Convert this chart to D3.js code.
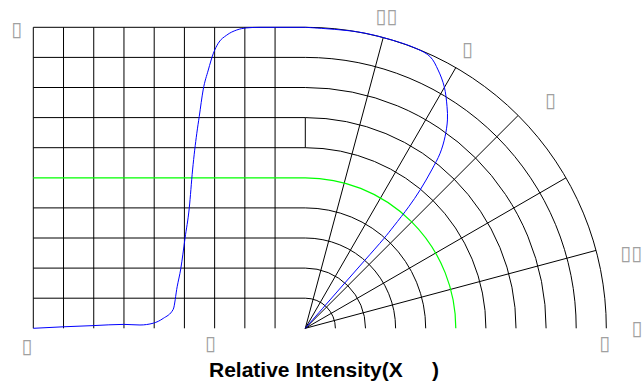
<!DOCTYPE html>
<html>
<head>
<meta charset="utf-8">
<script src="https://d3js.org/d3.v7.min.js"></script>
<style type="text/css">
body { margin: 0; background: #fff; }
.title { font: bold 21px "Liberation Sans", Arial, Helvetica, sans-serif; }
.tofu { font: 20px "DejaVu Sans", sans-serif; fill: #a0a0a0; }
</style>
</head>
<body>
<script>
// left (cartesian) graph: off-axis angle in degrees and relative intensity
var leftAngles = [90, 80, 70, 60, 54.7, 50.3, 47.0, 43.7, 42.4, 41.2, 39.8, 38.4, 37.3, 35.9, 35.1, 33.8, 32.1, 30.4, 28.8, 26.0, 22.7, 19.4, 15, 10, 0];
var leftIntensity = [0, 0.005, 0.009, 0.013, 0.011, 0.017, 0.033, 0.063, 0.138, 0.198, 0.299, 0.399, 0.526, 0.648, 0.703, 0.792, 0.858, 0.914, 0.947, 0.974, 0.991, 0.998, 1.0, 1.0, 1.0];
// right (polar) graph: off-axis angle in degrees and relative intensity
var polarAngles = [0, 10, 16.3, 21.6, 24.7, 27.2, 29.9, 32.6, 34.3, 36.1, 37.6, 38.6, 39.7, 40.4, 40.9, 41.2, 41.2, 41.1, 41.0, 41.0];
var polarIntensity = [1.0, 1.0, 1.0, 1.0, 0.993, 0.965, 0.926, 0.874, 0.838, 0.788, 0.734, 0.673, 0.597, 0.53, 0.45, 0.396, 0.30, 0.2, 0.1, 0];
// grid
var gridLevels = [0.1, 0.2, 0.3, 0.4, 0.5, 0.6, 0.7, 0.8, 0.9, 1.0];
var gridAngles = [90, 80, 70, 60, 50, 40, 30, 20, 10];
var spokeAngles = [15, 30, 45, 60, 75];
var halfLevel = 0.5;
// labels (glyphs missing in the reference, kept as boxes)
var leftLabelText = ['\u25AF', '\u25AF', '\u25AF'];
var leftLabelAngle = [95.5, 92.1, 31.4];
var leftLabelValue = [0.993, -0.06, -0.05];
var polarLabelText = ['\u25AF\u25AF', '\u25AF', '\u25AF', '\u25AF\u25AF', '\u25AF', '\u25AF'];
var polarLabelAngle = [14.6, 30.2, 47.1, 77.0, 90, 92.8];
var polarLabelRadius = [1.071, 1.072, 1.112, 1.111, 1.102, 0.996];
var xTitle = 'Relative Intensity(X\u00a0\u00a0\u00a0\u00a0\u00a0)';

var width = 643, height = 388;
var left = 33.3, cx = 305.3, cy = 328.3, R = 301;

var svg = d3.select('body').append('svg').attr('width', width).attr('height', height);

var x = d3.scaleLinear().domain([90, 0]).range([left, cx]);
var y = d3.scaleLinear().domain([0, 1]).range([cy, cy - R]);
var r = d3.scaleLinear().domain([0, 1]).range([0, R]);
var rad = function(a) { return a * Math.PI / 180; };

var grid = svg.append('g').attr('fill', 'none').attr('stroke', '#000').attr('stroke-width', 1);

//vertical lines of the left grid
grid.selectAll('line.v').data(gridAngles).enter().append('line')
	.attr('x1', function(d) { return x(d); }).attr('x2', function(d) { return x(d); })
	.attr('y1', y(0)).attr('y2', y(1));

//horizontal lines joined to the quarter arcs
var levelPath = function(v) {
	var p = d3.path();
	p.moveTo(x(90), y(v));
	p.lineTo(cx, y(v));
	p.arc(cx, cy, r(v), -Math.PI / 2, 0);
	return p.toString();
};
grid.selectAll('path.level').data(gridLevels.filter(function(v) { return v != halfLevel; })).enter().append('path')
	.attr('d', levelPath);

//spokes
grid.selectAll('line.spoke').data(spokeAngles).enter().append('line')
	.attr('x1', cx).attr('y1', cy)
	.attr('x2', function(d) { return cx + r(1) * Math.cos(rad(d)); })
	.attr('y2', function(d) { return cy - r(1) * Math.sin(rad(d)); });

//short piece of the vertical axis
grid.append('line').attr('x1', cx).attr('x2', cx).attr('y1', y(0.6)).attr('y2', y(0.7));

//50% level in green
svg.append('path').attr('fill', 'none').attr('stroke', '#00ff00').attr('stroke-width', 1.2).attr('d', levelPath(halfLevel));

//intensity curves
var leftData = leftAngles.map(function(a, i) { return [a, leftIntensity[i]]; });
var polarData = polarAngles.map(function(a, i) { return [a, polarIntensity[i]]; });

var leftLine = d3.line().x(function(d) { return x(d[0]); }).y(function(d) { return y(d[1]); }).curve(d3.curveMonotoneX);
var polarLine = d3.lineRadial().angle(function(d) { return rad(d[0]); }).radius(function(d) { return r(d[1]); }).curve(d3.curveCatmullRom);

svg.append('path').datum(leftData).attr('fill', 'none').attr('stroke', '#0000ff').attr('stroke-width', 1).attr('d', leftLine);
svg.append('path').datum(polarData).attr('fill', 'none').attr('stroke', '#0000ff').attr('stroke-width', 1)
	.attr('transform', 'translate(' + cx + ',' + cy + ')').attr('d', polarLine);

//labels
leftLabelText.forEach(function(t, i) {
	svg.append('text').attr('class', 'tofu').attr('text-anchor', 'middle').attr('dominant-baseline', 'central')
		.attr('x', x(leftLabelAngle[i])).attr('y', y(leftLabelValue[i])).text(t);
});
polarLabelText.forEach(function(t, i) {
	var a = rad(polarLabelAngle[i]);
	svg.append('text').attr('class', 'tofu').attr('text-anchor', 'middle').attr('dominant-baseline', 'central')
		.attr('x', cx + r(polarLabelRadius[i]) * Math.sin(a))
		.attr('y', cy - r(polarLabelRadius[i]) * Math.cos(a)).text(t);
});

svg.append('text').attr('class', 'title').attr('x', 209).attr('y', 376.7).text(xTitle);
</script>
</body>
</html>
